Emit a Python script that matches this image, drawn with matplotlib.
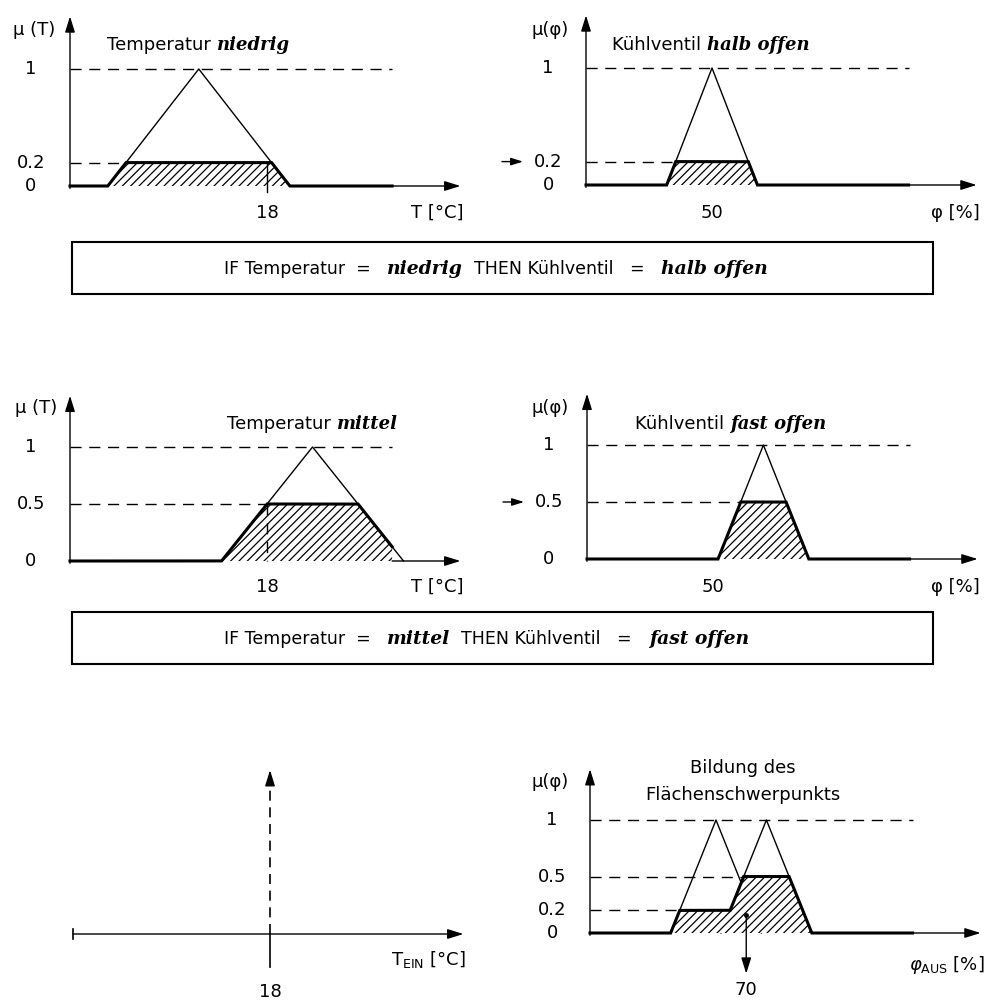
import numpy as np
import matplotlib.pyplot as plt
from matplotlib.patches import Rectangle

plt.rcParams['font.family'] = ['DejaVu Sans']
plt.rcParams['hatch.color'] = 'black'
plt.rcParams['hatch.linewidth'] = 0.9

# --- data ---------------------------------------------------------------
t_axis = (9.34, 26.5)        # temperature axis (°C)
t_dash_end = 23.5
phi_axis = (0, 155)          # valve opening axis (%)
phi_dash_end = 128

temp_niedrig = [11, 15, 19]  # triangle: start, peak, end
temp_mittel = [16, 20, 24]
valve_halb = [32, 50, 68]
valve_fast = [52, 70, 88]

t_in = 18
mu_niedrig = 0.2
mu_mittel = 0.5
phi_tick = 50
centroid_x = 62
centroid_label = '70'

rules = [
    ('IF Temperatur  =   ', 'niedrig', '  THEN Kühlventil   =   ', 'halb offen'),
    ('IF Temperatur  =   ', 'mittel', '  THEN Kühlventil   =   ', 'fast offen'),
]

W, H = 984, 1001
FS = 13
ITAL = dict(family='DejaVu Serif', style='italic', weight='bold', fontsize=13)
ITAL_RULE = dict(family='DejaVu Serif', style='italic', weight='bold', fontsize=13.5)

fig = plt.figure(figsize=(W / 100, H / 100), dpi=100)
bg = fig.add_axes([0, 0, 1, 1])
bg.set_xlim(0, W)
bg.set_ylim(H, 0)
bg.axis('off')


def make_panel(ox, oy, sx, sy, x0):
    # ox, oy: pixel position of the origin, sx, sy: pixels per unit
    left, right = ox - 75, min(ox + 405, W)
    top, bottom = oy - 190, min(oy + 70, H)
    ax = fig.add_axes([left / W, 1 - bottom / H, (right - left) / W, (bottom - top) / H])
    ax.set_xlim(x0 + (left - ox) / sx, x0 + (right - ox) / sx)
    ax.set_ylim(-(bottom - oy) / sy, (oy - top) / sy)
    ax.axis('off')
    return ax


def tri_mu(x, tri):
    a, b, c = tri
    return np.clip(np.minimum((x - a) / (b - a), (c - x) / (c - b)), 0, None)


def arrow(ax, start, end, lw=1.0, scale=12):
    ax.annotate('', xy=end, xytext=start,
                arrowprops=dict(arrowstyle='-|>,head_length=0.8,head_width=0.25',
                                lw=lw, color='black', mutation_scale=scale,
                                shrinkA=0, shrinkB=0))


def lab(ax, s, x, y, dx, dy, **kw):
    opts = dict(textcoords='offset pixels', ha='center', va='center', fontsize=FS)
    opts.update(kw)
    return ax.annotate(s, xy=(x, y), xytext=(dx, dy), **opts)


def dline(ax, xs, ys, **kw):
    ax.plot(xs, ys, color='black', lw=1.0, dashes=(8, 5.5), **kw)


def title(ax, x, y, dx, dy, plain, ital):
    t = lab(ax, plain, x, y, dx, dy, ha='left', va='bottom')
    ax.annotate(ital, xy=(1, 0), xycoords=t, ha='left', va='bottom', **ITAL)


def input_arrow(ax, x0, sx, level):
    # small arrow pointing at the activated level, left of the y labels
    arrow(ax, (x0 - 84 / sx, level), (x0 - 63 / sx, level), scale=9)


def fuzzy_panel(ax, axis_rng, dash_end, tris, levels, yoff):
    x0, x1 = axis_rng
    grid = np.linspace(x0, dash_end, 4001)
    mu = np.zeros_like(grid)
    for tri, h in zip(tris, levels):
        # thin full triangle
        ax.plot([tri[0], tri[1], tri[2]], [0, 1, 0], color='black', lw=1.0)
        mu = np.maximum(mu, np.minimum(tri_mu(grid, tri), h))
    ax.fill_between(grid, 0, mu, facecolor='white', edgecolor='black',
                    hatch='////', lw=0, zorder=3)
    ax.plot(grid, mu, color='black', lw=2.2, zorder=4, solid_joinstyle='miter')
    # axes
    arrow(ax, (dash_end, 0), (x1, 0))
    arrow(ax, (x0, -0.02), (x0, 1.45))
    # dashed guide lines
    dline(ax, [x0, dash_end], [1, 1])
    for tri, h in zip(tris, levels):
        first = grid[np.argmax(mu >= h - 1e-9)]
        dline(ax, [x0, first], [h, h])
    for v in [1] + list(levels) + [0]:
        lab(ax, f'{v:g}', x0, v, yoff, 0)
    return grid, mu


# --- top row ----------------------------------------------------------
ax = make_panel(70, 186, 22.75, 117, t_axis[0])
fuzzy_panel(ax, t_axis, t_dash_end, [temp_niedrig], [mu_niedrig], -39)
ax.plot([t_in, t_in], [mu_niedrig, -0.05], color='black', lw=1.0, zorder=5)
lab(ax, 'μ (T)', t_axis[0], 0, -36, 156)
title(ax, t_axis[0], 1, 37, 15, 'Temperatur ', 'niedrig')
lab(ax, str(t_in), t_in, 0, 0, -27)
lab(ax, 'T [°C]', t_axis[0], 0, 367, -27)

ax = make_panel(586, 185, 2.52, 117, phi_axis[0])
fuzzy_panel(ax, phi_axis, phi_dash_end, [valve_halb], [mu_niedrig], -38)
lab(ax, 'μ(φ)', phi_axis[0], 0, -36, 155)
title(ax, phi_axis[0], 1, 26, 14, 'Kühlventil ', 'halb offen')
input_arrow(ax, phi_axis[0], 2.52, mu_niedrig)
lab(ax, str(phi_tick), phi_tick, 0, 0, -28)
lab(ax, 'φ [%]', phi_axis[0], 0, 369, -28)

# --- middle row -------------------------------------------------------
ax = make_panel(70, 561, 22.75, 114, t_axis[0])
fuzzy_panel(ax, t_axis, t_dash_end, [temp_mittel], [mu_mittel], -39)
dline(ax, [t_in, t_in], [mu_mittel, 0], zorder=5)
lab(ax, 'μ (T)', t_axis[0], 0, -34, 153)
title(ax, t_axis[0], 1, 157, 14, 'Temperatur ', 'mittel')
lab(ax, str(t_in), t_in, 0, 0, -26)
lab(ax, 'T [°C]', t_axis[0], 0, 367, -26)

ax = make_panel(587, 559, 2.52, 114, phi_axis[0])
fuzzy_panel(ax, phi_axis, phi_dash_end, [valve_fast], [mu_mittel], -38)
lab(ax, 'μ(φ)', phi_axis[0], 0, -37, 151)
title(ax, phi_axis[0], 1, 48, 12, 'Kühlventil ', 'fast offen')
input_arrow(ax, phi_axis[0], 2.52, mu_mittel)
lab(ax, str(phi_tick), phi_tick, 0, 0, -28)
lab(ax, 'φ [%]', phi_axis[0], 0, 368, -28)

# --- bottom row -------------------------------------------------------
ax = make_panel(73, 934, 22.75, 113, t_axis[0])
arrow(ax, (t_axis[0], 0), (t_axis[1], 0))
ax.plot([t_axis[0], t_axis[0]], [-0.045, 0.045], color='black', lw=1.2)
ax.plot([t_in, t_in], [0, -0.29], color='black', lw=1.2)
ax.plot([t_in, t_in], [0, 1.38], color='black', lw=1.2, dashes=(6, 4))
arrow(ax, (t_in, 1.35), (t_in, 1.45))
lab(ax, str(t_in), t_in, 0, 0, -58)
lab(ax, r'T$_{\rm EIN}$ [°C]', t_axis[0], 0, 355, -26)

ax = make_panel(590, 933, 2.52, 113, phi_axis[0])
fuzzy_panel(ax, phi_axis, phi_dash_end, [valve_halb, valve_fast],
            [mu_niedrig, mu_mittel], -38)
lab(ax, 'μ(φ)', phi_axis[0], 0, -40, 151)
lab(ax, 'Bildung des', phi_axis[0], 1, 153, 52)
lab(ax, 'Flächenschwerpunkts', phi_axis[0], 1, 153, 25)
ax.plot([centroid_x], [0.16], 'o', color='black', ms=2.5, zorder=6)
arrow(ax, (centroid_x, 0.16), (centroid_x, -0.36))
lab(ax, centroid_label, centroid_x, 0, 0, -57)
lab(ax, r'$\varphi_{\rm AUS}$ [%]', phi_axis[0], 0, 357, -32)

# --- rule boxes -------------------------------------------------------
for (plain1, ital1, plain2, ital2), (y0, y1) in zip(rules, [(242, 294), (612, 664)]):
    bg.add_patch(Rectangle((72, y0), 933 - 72, y1 - y0, fill=False, lw=1.5, color='black'))
    t = bg.text(224, (y0 + y1) / 2 + 1, plain1, ha='left', va='center', fontsize=12.5)
    t = bg.annotate(ital1, xy=(1, 0), xycoords=t, ha='left', va='bottom', **ITAL_RULE)
    t = bg.annotate(plain2, xy=(1, 0), xycoords=t, ha='left', va='bottom', fontsize=12.5)
    bg.annotate(ital2, xy=(1, 0), xycoords=t, ha='left', va='bottom', **ITAL_RULE)

fig.savefig('out.png', dpi=100)
